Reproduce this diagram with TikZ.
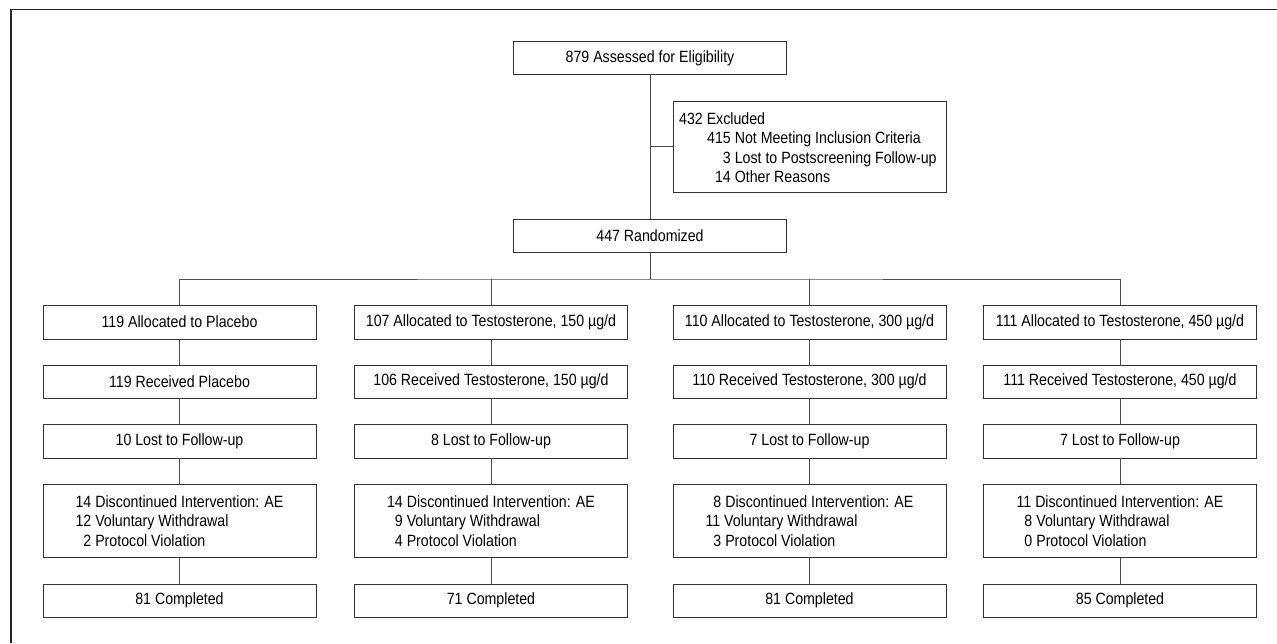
\documentclass[tikz,border=0pt]{standalone}
\usepackage{fontspec}
\setmainfont{Liberation Sans}[FakeStretch=0.87]
\newcommand\ugd{µg/d}
\begin{document}
\begin{tikzpicture}[x=1pt,y=-1pt,
  box/.style={draw=black!80, line width=0.9pt, minimum width=273pt, minimum height=33pt, inner sep=0pt, align=center},
  dbox/.style={box, minimum height=73pt, align=left},
  conn/.style={draw=black!70, line width=0.8pt},
  every node/.append style={font=\fontsize{16.3}{19.5}\selectfont}]
\useasboundingbox (0,0) rectangle (1277,643);
\draw[line width=1.6pt, black!85] (11,643) -- (11,9.5) -- (1277,9.5);

\node[box] (top) at (650,58) {879 Assessed for Eligibility};
\node[box, minimum height=91pt, anchor=west] (excl) at (673,146.5) {};
\node[anchor=west, align=left, inner sep=0pt] (excltxt) at ([xshift=6pt,yshift=-1pt]excl.west)
  {432 Excluded\\
   \hspace*{28pt}415 Not Meeting Inclusion Criteria\\
   \hspace*{28pt}\hphantom{41}3 Lost to Postscreening Follow-up\\
   \hspace*{28pt}\hphantom{4}14 Other Reasons};
\node[box] (rand) at (650,235.5) {447 Randomized};
\coordinate (br) at (650,279);

% column 1
\node[box, minimum height=34pt] (a1) at (179.5,322) {119 Allocated to Placebo};
\node[box] (r1) at (179.5,381.5) {119 Received Placebo};
\node[box, minimum height=34pt] (l1) at (179.5,441) {10 Lost to Follow-up};
\node[dbox] (d1) at (179.5,521) {14 Discontinued Intervention: AE\\12 Voluntary Withdrawal\\\hphantom{1}2 Protocol Violation};
\node[box] (c1) at (179.5,600.5) {81 Completed};
% column 2
\node[box, minimum height=34pt] (a2) at (491,322) {107 Allocated to Testosterone, 150 \ugd};
\node[box] (r2) at (491,381.5) {106 Received Testosterone, 150 \ugd};
\node[box, minimum height=34pt] (l2) at (491,441) {8 Lost to Follow-up};
\node[dbox] (d2) at (491,521) {14 Discontinued Intervention: AE\\\hphantom{1}9 Voluntary Withdrawal\\\hphantom{1}4 Protocol Violation};
\node[box] (c2) at (491,600.5) {71 Completed};
% column 3
\node[box, minimum height=34pt] (a3) at (809.5,322) {110 Allocated to Testosterone, 300 \ugd};
\node[box] (r3) at (809.5,381.5) {110 Received Testosterone, 300 \ugd};
\node[box, minimum height=34pt] (l3) at (809.5,441) {7 Lost to Follow-up};
\node[dbox] (d3) at (809.5,521) {\hphantom{1}8 Discontinued Intervention: AE\\11 Voluntary Withdrawal\\\hphantom{1}3 Protocol Violation};
\node[box] (c3) at (809.5,600.5) {81 Completed};
% column 4
\node[box, minimum height=34pt] (a4) at (1120,322) {111 Allocated to Testosterone, 450 \ugd};
\node[box] (r4) at (1120,381.5) {111 Received Testosterone, 450 \ugd};
\node[box, minimum height=34pt] (l4) at (1120,441) {7 Lost to Follow-up};
\node[dbox] (d4) at (1120,521) {11 Discontinued Intervention: AE\\\hphantom{1}8 Voluntary Withdrawal\\\hphantom{1}0 Protocol Violation};
\node[box] (c4) at (1120,600.5) {85 Completed};

\foreach \i in {1,...,4}{
  \draw[conn] (a\i.south) -- (r\i.north);
  \draw[conn] (r\i.south) -- (l\i.north);
  \draw[conn] (l\i.south) -- (d\i.north);
  \draw[conn] (d\i.south) -- (c\i.north);
}

\draw[conn] (top.south) -- (rand.north);
\draw[conn] (excl.west) -- (excl.west -| top.south);
\draw[conn] (rand.south) -- (br);
\draw[conn] (a1.north) |- (br) -| (a4.north);
\draw[conn] (a2.north) -- (a2.north |- br);
\draw[conn] (a3.north) -- (a3.north |- br);
\end{tikzpicture}
\end{document}
